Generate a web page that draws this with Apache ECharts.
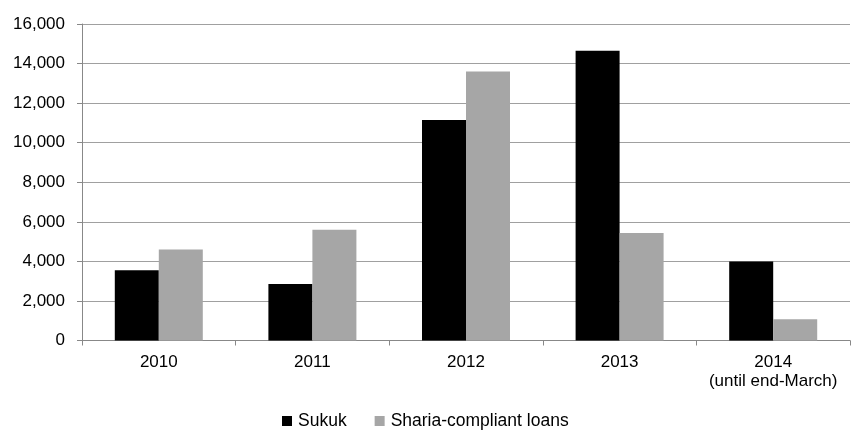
<!DOCTYPE html>
<html>
<head>
<meta charset="utf-8">
<script src="https://cdn.jsdelivr.net/npm/echarts@6/dist/echarts.min.js"></script>
<style>html,body{margin:0;padding:0;background:#fff}#c{width:851px;height:430px}</style>
</head>
<body>
<div id="c"></div>
<script>
const categories = ['2010', '2011', '2012', '2013', '2014\n(until end-March)'];
const sukuk = [3550, 2850, 11150, 14650, 4000];
const shariaLoans = [4600, 5600, 13600, 5430, 1080];
const seriesNames = ['Sukuk', 'Sharia-compliant loans'];

const chart = echarts.init(document.getElementById('c'), null, {renderer: 'canvas'});
const font = 'Liberation Sans, Arial, sans-serif';
chart.setOption({
  animation: false,
  backgroundColor: '#ffffff',
  textStyle: {fontFamily: font},
  grid: {left: 82, right: 1, top: 24, bottom: 89.5, containLabel: false},
  legend: {
    data: seriesNames,
    left: 277, top: 407,
    itemWidth: 10, itemHeight: 10, itemGap: 28,
    icon: 'rect',
    textStyle: {fontSize: 17.5, color: '#000', fontFamily: font, padding: [0, 0, 0, 1]}
  },
  xAxis: {
    type: 'category',
    data: categories,
    axisLine: {lineStyle: {color: '#888888', width: 1}},
    axisTick: {show: true, length: 5, lineStyle: {color: '#888888'}},
    axisLabel: {fontSize: 17, color: '#000', margin: 12, lineHeight: 19, fontFamily: font, interval: 0}
  },
  yAxis: {
    type: 'value',
    min: 0, max: 16000, interval: 2000,
    axisLine: {show: true, lineStyle: {color: '#888888', width: 1}},
    axisTick: {show: true, length: 5, lineStyle: {color: '#888888'}},
    splitLine: {show: true, lineStyle: {color: '#a0a0a0', width: 1}},
    axisLabel: {
      fontSize: 17, color: '#000', margin: 17, fontFamily: font,
      formatter: v => v.toLocaleString('en-US')
    }
  },
  series: [
    {name: seriesNames[0], type: 'bar', data: sukuk, barWidth: 44, barGap: '0%',
     itemStyle: {color: '#000000'}},
    {name: seriesNames[1], type: 'bar', data: shariaLoans, barWidth: 44, barGap: '0%',
     itemStyle: {color: '#a6a6a6'}}
  ]
});
</script>
</body>
</html>
